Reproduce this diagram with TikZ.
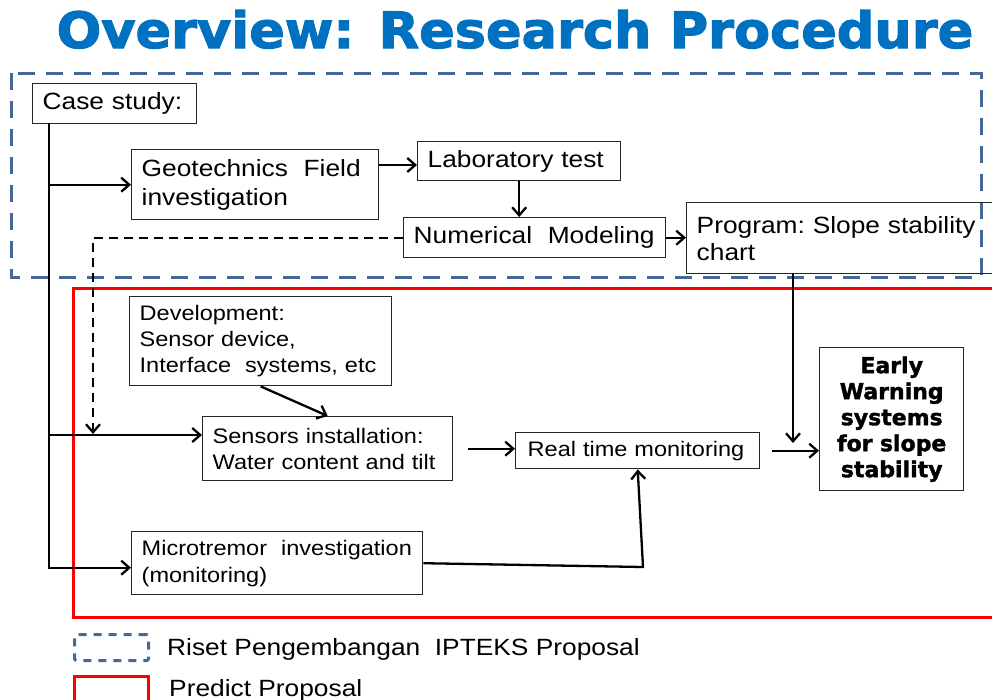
\documentclass[tikz,border=0pt]{standalone}
\usepackage{fontspec}
\usepackage{graphicx}
\setmainfont{Liberation Sans}[FakeStretch=1.12]
\newfontfamily\heavy{DejaVu Sans}[BoldFeatures={FakeBold=2.2}]
\newfontfamily\heavyew{DejaVu Sans}[BoldFeatures={FakeBold=1.6}]
\usetikzlibrary{arrows.meta}
\definecolor{titleblue}{HTML}{0070C0}
\definecolor{frameblue}{HTML}{44689A}
\definecolor{framered}{HTML}{FF0000}
\begin{document}
\begin{tikzpicture}[x=1pt,y=-1pt,
  box/.style={draw=black!85, line width=1.4pt, anchor=north west, inner xsep=10pt, inner ysep=0pt, align=left},
  big/.style={font=\fontsize{23.5}{29}\selectfont},
  small/.style={font=\fontsize{21}{26}\selectfont},
  arr/.style={line width=2.3pt, -{Straight Barb[length=8pt,width=14pt]}},
  dasharr/.style={arr, dash pattern=on 9pt off 6pt},
  ]
\useasboundingbox (0,0) rectangle (992,699);
\clip (0,0) rectangle (992,699);

% title
\node[anchor=base, text=titleblue, font=\heavy\bfseries\fontsize{50}{50}\selectfont] (title) at (515,48) {\scalebox{1.05}[1]{Overview: Research Procedure}};

% frames
\draw[frameblue, line width=3pt, dash pattern=on 17pt off 11pt] (11,73) rectangle (981,277);
\draw[framered, line width=3pt] (73,288) rectangle (1010,617);

% boxes
\node[box,big,text width=144pt,minimum height=40pt] (case) at (32,83) {Case study:};
\node[box,big,text width=227pt,minimum height=70pt] (geo) at (131,149) {Geotechnics\ \ Field\\investigation};
\node[box,big,text width=183pt,minimum height=39pt] (lab) at (417,141) {Laboratory test};
\node[box,big,text width=242pt,minimum height=40pt] (num) at (403,217) {Numerical\ \ Modeling};
\node[box,big,text width=300pt,minimum height=71pt,font=\fontsize{23.5}{27}\selectfont] (prog) at (686,202) {Program:\ Slope stability\\chart};
\node[box,small,text width=242pt,minimum height=89pt] (dev) at (129,296) {Development:\\Sensor device,\\Interface\ \ systems, etc};
\node[box,small,text width=230pt,minimum height=64pt] (sens) at (202,416) {Sensors installation:\\Water content and tilt};
\node[box,small,text width=224pt,minimum height=36pt] (rt) at (515,432) {\hspace{2pt}Real time monitoring};
\node[box,small,text width=271pt,minimum height=63pt,font=\fontsize{21}{27}\selectfont] (micro) at (131,531) {Microtremor\ \ investigation\\(monitoring)};
\node[box,align=center,text width=124pt,minimum height=143pt,font=\heavyew\bfseries\fontsize{22}{26}\selectfont] (ew) at (819,347) {Early\\Warning\\systems\\for slope\\stability};

% connectors
\coordinate (t0) at (49,123);
\draw[arr] (t0) |- ([yshift=-4.5pt]micro.west);
\draw[arr] (t0 |- geo.west) -- (geo.west);
\draw[arr] (t0 |- 0,435) -- (sens.west |- 0,435);
\draw[arr] (geo.east |- 0,165) -- (lab.west |- 0,165);
\draw[arr] (lab.south) -- (lab.south |- num.north);
\draw[arr] (num.east) -- (prog.west |- num.east);
\coordinate (dEnd) at (93,434);
\draw[dasharr] (num.west) -| (dEnd);
\draw[arr] (dev.south) -- (sens.north);
\draw[arr] ([xshift=15pt]sens.east) -- (rt.west |- sens.east);
\draw[arr] ([xshift=12pt]rt.east) -- (ew.west |- rt.east);
\coordinate (pOut) at (793,273);
\coordinate (pIn) at (793,443);
\draw[arr] (pOut) -- (pIn);
\coordinate (bend) at (643,567);
\draw[arr] (micro.east) -- (bend) -- (rt.south);

% legend
\node[draw=frameblue, line width=3pt, dash pattern=on 8pt off 7pt, rounded corners=2pt, anchor=north west, minimum width=74pt, minimum height=26pt, inner sep=0pt] (legb) at (73,633) {};
\node[draw=framered, line width=3pt, anchor=north west, minimum width=74pt, minimum height=35pt, inner sep=0pt] (legr) at (73,675) {};
\node[anchor=base west, big, inner sep=0pt] (legbt) at (167,655) {Riset\ Pengembangan\ \ IPTEKS\ Proposal};
\node[anchor=base west, big, inner sep=0pt] (legrt) at (169,696) {Predict Proposal};
\end{tikzpicture}
\end{document}
